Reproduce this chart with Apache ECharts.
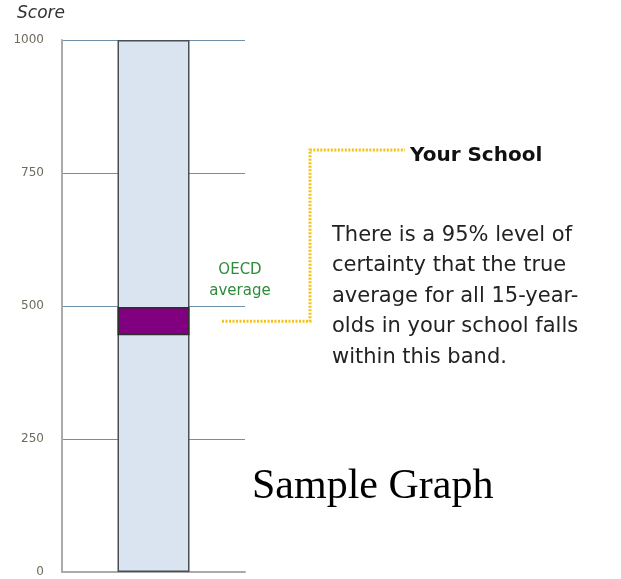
<!DOCTYPE html>
<html>
<head>
<meta charset="utf-8">
<script src="https://cdn.jsdelivr.net/npm/echarts@6/dist/echarts.min.js"></script>
<style>
  html, body { margin: 0; padding: 0; background: #fff; }
  #main { width: 621px; height: 579px; }
</style>
</head>
<body>
<div id="main"></div>
<script>
// score scale and the school's confidence band
var categories = ['Your School'];
var scaleMax = [1000];
var bandLow = [445];
var bandHigh = [498];
var tickLabels = [0, 250, 500, 750, 1000];

var bandSize = bandHigh.map(function (h, i) { return h - bandLow[i]; });

var chart = echarts.init(document.getElementById('main'));

var textFont = '"DejaVu Sans", sans-serif';

chart.setOption({
  animation: false,
  grid: { left: 62, right: 376, top: 40, bottom: 7 },
  xAxis: {
    type: 'category',
    data: categories,
    axisLine: { show: true, lineStyle: { color: '#aaaaaa', width: 2 } },
    axisTick: { show: false },
    axisLabel: { show: false }
  },
  yAxis: {
    type: 'value',
    min: 0,
    max: 1000,
    interval: 250,
    axisLine: { show: true, lineStyle: { color: '#aaaaaa', width: 2 } },
    axisTick: { show: false },
    axisLabel: {
      margin: 18,
      color: '#6f6a5e',
      fontSize: 12,
      fontFamily: textFont,
      formatter: function (v) { return tickLabels.indexOf(v) >= 0 ? String(v) : ''; }
    },
    splitLine: { show: true, lineStyle: { color: '#6f90a6', width: 1.2 } }
  },
  series: [
    {
      type: 'bar',
      data: scaleMax,
      barWidth: 72,
      barGap: '-100%',
      itemStyle: { color: '#dae3f0', borderColor: '#4a4f55', borderWidth: 1.5 },
      z: 2
    },
    {
      type: 'bar',
      stack: 'band',
      data: bandLow,
      barWidth: 72,
      itemStyle: { color: 'rgba(0,0,0,0)' },
      z: 3
    },
    {
      type: 'bar',
      stack: 'band',
      data: bandSize,
      barWidth: 72,
      itemStyle: { color: '#800080', borderColor: '#2e2e2e', borderWidth: 1.5 },
      z: 3
    }
  ]
});

// annotations positioned from the axis scale
var mid = (bandLow[0] + bandHigh[0]) / 2;
var yMid = chart.convertToPixel({ yAxisIndex: 0 }, mid);
var yTop = 150;
var yellow = '#f3c21a';

chart.setOption({
  graphic: [
    {
      type: 'text', x: 17, y: 5,
      style: { text: 'Score', fontSize: 17, fontStyle: 'italic', fill: '#333', fontFamily: textFont }
    },
    {
      type: 'text', x: 240, y: 260,
      style: {
        text: 'OECD\naverage', fontSize: 15, lineHeight: 21, align: 'center',
        fill: '#2e8b3a', fontFamily: textFont
      }
    },
    {
      type: 'polyline',
      shape: { points: [[222, yMid], [310, yMid], [310, yTop], [405, yTop]] },
      style: { stroke: yellow, lineWidth: 3, lineDash: [2, 1.5], fill: null }
    },
    {
      type: 'text', x: 410, y: 146,
      style: { text: 'Your School', fontSize: 20, fontWeight: 'bold', fill: '#111', fontFamily: textFont }
    },
    {
      type: 'text', x: 332, y: 220,
      style: {
        text: 'There is a 95% level of\ncertainty that the true\naverage for all 15-year-\nolds in your school falls\nwithin this band.',
        fontSize: 21, lineHeight: 30.5, fill: '#222', fontFamily: textFont
      }
    },
    {
      type: 'text', x: 252, y: 466,
      style: { text: 'Sample Graph', fontSize: 42, fill: '#000', fontFamily: '"Liberation Serif", serif' }
    }
  ]
});
</script>
</body>
</html>
